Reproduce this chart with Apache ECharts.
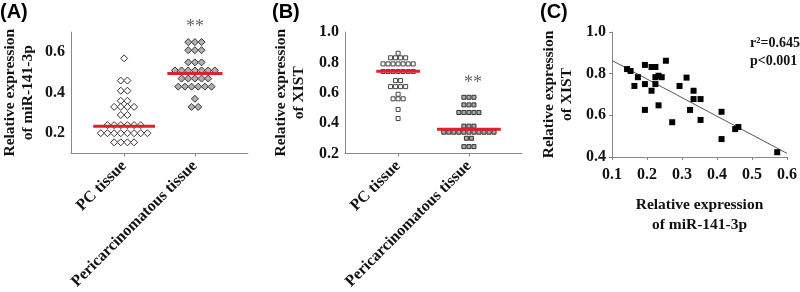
<!DOCTYPE html>
<html>
<head>
<meta charset="utf-8">
<script src="https://cdn.jsdelivr.net/npm/echarts@6/dist/echarts.min.js"></script>
<style>
  html, body { margin: 0; padding: 0; background: #fff; }
  #main { width: 800px; height: 292px; }
</style>
</head>
<body>
<div id="main"></div>
<script>
// groups on the x axis of (A) and (B)
const groups = ['PC tissue', 'Pericarcinomatous tissue'];

// (A) miR-141-3p, one value per sample
const mirPC = [0.57, 0.46, 0.46, 0.41, 0.41, 0.36, 0.36, 0.33, 0.33, 0.33, 0.33, 0.29, 0.29,
  0.24, 0.24, 0.24, 0.24, 0.24, 0.24, 0.20, 0.20, 0.20, 0.20, 0.20, 0.20, 0.20, 0.20,
  0.155, 0.155, 0.155, 0.155];
const mirPeri = [0.65, 0.65, 0.65, 0.61, 0.61, 0.61, 0.55, 0.55, 0.55,
  0.51, 0.51, 0.51, 0.51, 0.51, 0.51, 0.51, 0.47, 0.47, 0.47, 0.47, 0.47,
  0.43, 0.43, 0.43, 0.43, 0.43, 0.43, 0.37, 0.33, 0.33];
const mirBars = [0.235, 0.495]; // red lines

// (B) XIST
const xistPC = [0.86, 0.83, 0.83, 0.83, 0.83, 0.79, 0.79, 0.79, 0.79, 0.79, 0.79, 0.79,
  0.74, 0.74, 0.74, 0.74, 0.74, 0.74, 0.74, 0.68, 0.68, 0.64, 0.64, 0.64, 0.64,
  0.59, 0.56, 0.56, 0.56, 0.49, 0.43];
const xistPeri = [0.57, 0.57, 0.57, 0.52, 0.52, 0.52, 0.47, 0.47, 0.47, 0.47, 0.47,
  0.38, 0.38, 0.38, 0.34, 0.34, 0.34, 0.34, 0.34, 0.34, 0.34, 0.34, 0.34, 0.34, 0.34,
  0.30, 0.30, 0.245, 0.245, 0.245];
const xistBars = [0.742, 0.36];

// (C) correlation, paired samples
const corrMir = [0.143, 0.153, 0.174, 0.164, 0.194, 0.213, 0.224, 0.194, 0.194, 0.224,
  0.233, 0.242, 0.224, 0.213, 0.233, 0.254, 0.272, 0.293, 0.313, 0.323,
  0.333, 0.333, 0.353, 0.353, 0.413, 0.413, 0.452, 0.461, 0.572];
const corrXist = [0.822, 0.813, 0.783, 0.741, 0.842, 0.832, 0.832, 0.750, 0.626, 0.783,
  0.790, 0.783, 0.750, 0.718, 0.648, 0.862, 0.567, 0.741, 0.781, 0.626,
  0.718, 0.678, 0.678, 0.578, 0.617, 0.486, 0.534, 0.544, 0.423];
const statText = ['r²=0.645', 'p<0.001'];

// spread equal values side by side (dot plot)
function swarm(values, center, pitch) {
  const rows = new Map();
  values.forEach(v => rows.set(v, (rows.get(v) || 0) + 1));
  const pts = [];
  rows.forEach((n, v) => {
    for (let i = 0; i < n; i++) pts.push([center + (i - (n - 1) / 2) * pitch, v]);
  });
  return pts;
}
function widest(values) {
  const rows = {};
  values.forEach(v => rows[v] = (rows[v] || 0) + 1);
  return Math.max(...Object.values(rows));
}
function barLine(values, center, level, pitch, idx) {
  const half = widest(values) * pitch / 2 + 0.06;
  return {
    type: 'line', xAxisIndex: idx, yAxisIndex: idx, z: 5, symbol: 'none', silent: true,
    lineStyle: { color: '#e3202a', width: 3 },
    data: [[center - half, level], [center + half, level]]
  };
}

// least squares fit for (C)
const n = corrMir.length;
const mx = corrMir.reduce((a, b) => a + b, 0) / n;
const my = corrXist.reduce((a, b) => a + b, 0) / n;
let sxy = 0, sxx = 0;
for (let i = 0; i < n; i++) { sxy += (corrMir[i] - mx) * (corrXist[i] - my); sxx += (corrMir[i] - mx) ** 2; }
const slope = sxy / sxx, icpt = my - slope * mx;

const serif = 'Liberation Serif, Times New Roman, serif';
const lab = { fontFamily: serif, fontWeight: 'bold', fontSize: 16, color: '#111' };
const axisGrey = { lineStyle: { color: '#888', width: 1 } };

const aPitch = 0.094, bPitch = 0.071;

function groupX(idx) {
  return {
    type: 'value', gridIndex: idx, min: 0.25, max: 2.75,
    axisLine: axisGrey,
    axisTick: { customValues: [1, 2], length: 3, lineStyle: { color: '#888' } },
    axisLabel: Object.assign({ customValues: [1, 2], rotate: 45, margin: 10,
      formatter: v => groups[Math.round(v) - 1] }, lab),
    splitLine: { show: false }
  };
}
function yAx(idx, min, max, ticks, name, gap) {
  return {
    type: 'value', gridIndex: idx, min: min, max: max,
    axisLine: { show: true, lineStyle: { color: '#888' } },
    axisTick: { show: idx === 2, customValues: ticks, length: 3, lineStyle: { color: '#888' } },
    axisLabel: Object.assign({ customValues: ticks, margin: 6, formatter: v => v.toFixed(1) }, lab),
    splitLine: { show: false },
    name: name, nameLocation: 'middle', nameGap: gap,
    nameTextStyle: Object.assign({}, lab, { fontSize: 15.5, lineHeight: 18 })
  };
}

const chart = echarts.init(document.getElementById('main'));
chart.setOption({
  animation: false,
  grid: [
    { left: 70, top: 32, width: 178, height: 125 },
    { left: 345, top: 32, width: 177, height: 125 },
    { left: 612, top: 32, width: 178, height: 125 }
  ],
  xAxis: [
    groupX(0),
    groupX(1),
    {
      type: 'value', gridIndex: 2, min: 0.1, max: 0.6, interval: 0.1,
      axisLine: axisGrey,
      axisTick: { length: 3, lineStyle: { color: '#888' } },
      axisLabel: Object.assign({ margin: 10, formatter: v => v.toFixed(1) }, lab),
      splitLine: { show: false },
      name: 'Relative expression\nof miR-141-3p', nameLocation: 'middle', nameGap: 38,
      nameTextStyle: Object.assign({}, lab, { fontSize: 15.5, lineHeight: 20 })
    }
  ],
  yAxis: [
    yAx(0, 0.1, 0.7, [0.2, 0.4, 0.6], 'Relative expression\nof miR-141-3p', 34),
    yAx(1, 0.2, 1.0, [0.2, 0.4, 0.6, 0.8, 1.0], 'Relative expression\nof XIST', 37),
    yAx(2, 0.4, 1.0, [0.4, 0.6, 0.8, 1.0], 'Relative expression\nof XIST', 36)
  ],
  series: [
    { type: 'scatter', xAxisIndex: 0, yAxisIndex: 0, symbol: 'diamond', symbolSize: 7,
      itemStyle: { color: '#fff', borderColor: '#333', borderWidth: 1, opacity: 1 },
      data: swarm(mirPC, 1, aPitch) },
    { type: 'scatter', xAxisIndex: 0, yAxisIndex: 0, symbol: 'diamond', symbolSize: 7,
      itemStyle: { color: '#b0b0b0', borderColor: '#333', borderWidth: 1, opacity: 1 },
      data: swarm(mirPeri, 2, aPitch) },
    barLine(mirPC, 1, mirBars[0], aPitch, 0),
    barLine(mirPeri, 2, mirBars[1], aPitch, 0),
    { type: 'scatter', xAxisIndex: 1, yAxisIndex: 1, symbol: 'rect', symbolSize: 4,
      itemStyle: { color: '#fff', borderColor: '#444', borderWidth: 1, opacity: 1 },
      data: swarm(xistPC, 1, bPitch) },
    { type: 'scatter', xAxisIndex: 1, yAxisIndex: 1, symbol: 'rect', symbolSize: 4,
      itemStyle: { color: '#aaa', borderColor: '#333', borderWidth: 1, opacity: 1 },
      data: swarm(xistPeri, 2, bPitch) },
    barLine(xistPC, 1, xistBars[0], bPitch, 1),
    barLine(xistPeri, 2, xistBars[1], bPitch, 1),
    { type: 'line', xAxisIndex: 2, yAxisIndex: 2, symbol: 'none', silent: true,
      lineStyle: { color: '#555', width: 1 },
      data: [[0.1, icpt + slope * 0.1], [0.6, icpt + slope * 0.6]] },
    { type: 'scatter', xAxisIndex: 2, yAxisIndex: 2, symbol: 'rect', symbolSize: 6, z: 4,
      itemStyle: { color: '#000', opacity: 1 },
      data: corrMir.map((x, i) => [x, corrXist[i]]) }
  ],
  graphic: [
    { type: 'text', x: 0, y: 2, style: { text: '(A)', font: 'bold 20px Liberation Sans, Arial', fill: '#000' } },
    { type: 'text', x: 272, y: 2, style: { text: '(B)', font: 'bold 20px Liberation Sans, Arial', fill: '#000' } },
    { type: 'text', x: 540, y: 2, style: { text: '(C)', font: 'bold 20px Liberation Sans, Arial', fill: '#000' } },
    { type: 'text', x: 195, y: 27, style: { text: '**', font: '18px Liberation Serif', fill: '#666', align: 'center', verticalAlign: 'middle' } },
    { type: 'text', x: 473, y: 83, style: { text: '**', font: '18px Liberation Serif', fill: '#666', align: 'center', verticalAlign: 'middle' } },
    { type: 'text', x: 750, y: 43, style: { text: statText[0], font: 'bold 14px Liberation Serif', fill: '#111', verticalAlign: 'middle' } },
    { type: 'text', x: 750, y: 61, style: { text: statText[1], font: 'bold 14px Liberation Serif', fill: '#111', verticalAlign: 'middle' } }
  ]
});
</script>
</body>
</html>
